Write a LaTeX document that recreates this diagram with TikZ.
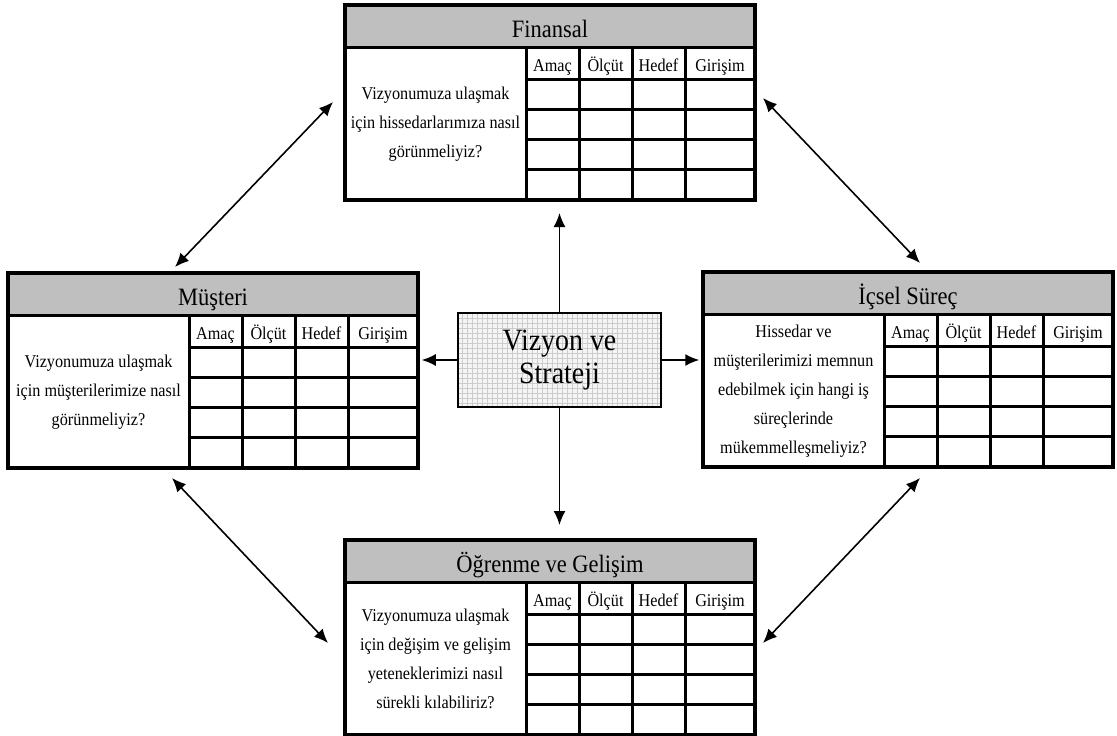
\documentclass[tikz,border=0pt]{standalone}
\usepackage{fontspec}
\setmainfont{Liberation Serif}
\newfontfamily\narrowserif[FakeStretch=0.9]{Liberation Serif}
\usetikzlibrary{arrows.meta,calc}

\tikzset{
  panel/.style={draw=black, line width=3.5pt, minimum width=410pt,
    minimum height=195pt, inner sep=0pt},
  titlebar/.style={fill=black!25},
  cellrule/.style={line width=3pt},
  heading/.style={font=\narrowserif\fontsize{25}{28}\selectfont, inner sep=0pt, anchor=base},
  colhead/.style={font=\narrowserif\fontsize{18}{20}\selectfont, inner sep=0pt, anchor=base},
  question/.style={font=\narrowserif\fontsize{18}{29}\selectfont, align=center, inner sep=0pt},
  vision/.style={draw, line width=1.5pt, minimum width=203pt, minimum height=94pt,
    inner sep=0pt, font=\narrowserif\fontsize{31}{33}\selectfont, align=center, fill=black!4,
    path picture={\draw[black!20, line width=0.35pt]
      (path picture bounding box.south west) grid[step=5pt]
      (path picture bounding box.north east);}},
  link/.style={line width=1.6pt, -{Latex[length=14pt,width=12pt]}},
  dlink/.style={line width=1.6pt,
    {Latex[length=14pt,width=12pt]}-{Latex[length=14pt,width=12pt]}},
}

% One perspective panel: #1 name, #2/#3 top-left corner, #4 title, #5 question
\newcommand\bscpanel[5]{%
  \begin{scope}[shift={(#2,#3)}]
    \fill[titlebar] (0,0) rectangle (410,42);
    \node[heading] at (205,32) {#4};
    \draw[cellrule] (0,42) -- (410,42)
      (181,42) -- (181,195) (234,42) -- (234,195)
      (287,42) -- (287,195) (340,42) -- (340,195);
    \foreach \r in {74,104.25,134.5,164.75}
      \draw[cellrule] (181,\r) -- (410,\r);
    \node[colhead] at (207.5,66) {Amaç};
    \node[colhead] at (260.5,66) {Ölçüt};
    \node[colhead] at (313.5,66) {Hedef};
    \node[colhead] at (375,66) {Girişim};
    \node[question] at (90.5,119) {#5};
    \node[panel] (#1) at (205,97.5) {};
  \end{scope}}

\begin{document}
\begin{tikzpicture}[x=1pt, y=-1pt]
  \useasboundingbox[fill=white] (0,0) rectangle (1117,736);

  \bscpanel{fin}{345}{5}{Finansal}
    {Vizyonumuza ulaşmak\\için hissedarlarımıza nasıl\\görünmeliyiz?}
  \bscpanel{mus}{8}{273}{Müşteri}
    {Vizyonumuza ulaşmak\\için müşterilerimize nasıl\\görünmeliyiz?}
  \bscpanel{ic}{703}{272}{İçsel Süreç}
    {Hissedar ve\\müşterilerimizi memnun\\edebilmek için hangi iş\\süreçlerinde\\mükemmelleşmeliyiz?}
  \bscpanel{og}{345}{540}{Öğrenme ve Gelişim}
    {Vizyonumuza ulaşmak\\için değişim ve gelişim\\yeteneklerimizi nasıl\\sürekli kılabiliriz?}

  \node[vision] (viz) at (559.5,360) {Vizyon ve\\Strateji};

  % arrows from the vision box
  \coordinate (upend) at (559.5,213);
  \coordinate (downend) at (559.5,525);
  \draw[link] (viz.north) -- (upend);
  \draw[link] (viz.south) -- (downend);
  \draw[link, shorten >=2pt] (viz.west) -- (viz.west -| mus.east);
  \draw[link, shorten >=2pt] (viz.east) -- (viz.east -| ic.west);

  % links between neighbouring perspectives
  \coordinate (a1) at (175,267);  \coordinate (a2) at (333,102);
  \coordinate (b1) at (763,98);   \coordinate (b2) at (920,263);
  \coordinate (c1) at (172,478);  \coordinate (c2) at (328,643);
  \coordinate (d1) at (920,478);  \coordinate (d2) at (763,643);
  \draw[dlink] (a1) -- (a2);
  \draw[dlink] (b1) -- (b2);
  \draw[dlink] (c1) -- (c2);
  \draw[dlink] (d1) -- (d2);
\end{tikzpicture}
\end{document}
